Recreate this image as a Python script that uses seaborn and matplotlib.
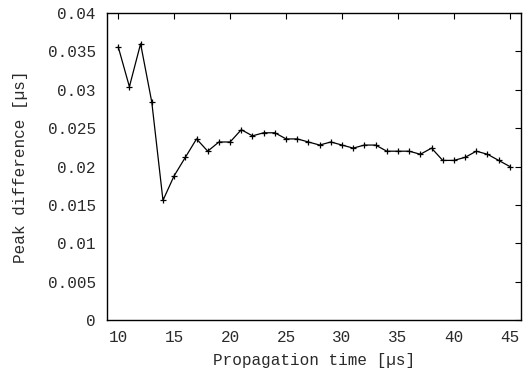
import matplotlib
matplotlib.use("Agg")
import matplotlib.pyplot as plt
import seaborn as sns
import pandas as pd

# propagation time [us] and peak difference [us]
prop_time = list(range(10, 46))
peak_diff = [0.0356, 0.0304, 0.0360, 0.0284, 0.0156, 0.0188, 0.0212, 0.0236,
             0.0220, 0.0232, 0.0232, 0.0248, 0.0240, 0.0244, 0.0244, 0.0236,
             0.0236, 0.0232, 0.0228, 0.0232, 0.0228, 0.0224, 0.0228, 0.0228,
             0.0220, 0.0220, 0.0220, 0.0216, 0.0224, 0.0208, 0.0208, 0.0212,
             0.0220, 0.0216, 0.0208, 0.0200]
y_ticks = [0, 0.005, 0.01, 0.015, 0.02, 0.025, 0.03, 0.035, 0.04]
y_tick_labels = ["0", "0.005", "0.01", "0.015", "0.02", "0.025", "0.03", "0.035", "0.04"]
x_ticks = [10, 15, 20, 25, 30, 35, 40, 45]

df = pd.DataFrame({"t": prop_time, "d": peak_diff})

sns.set_style("white")
plt.rcParams["font.family"] = ["Liberation Mono", "DejaVu Sans Mono"]
txt = "#2a2a2a"

fig = plt.figure(figsize=(5.29, 3.73), dpi=100)
ax = fig.add_axes([0.2023, 0.142, 0.7827, 0.823])

sns.lineplot(data=df, x="t", y="d", ax=ax, color="black", linewidth=0.9,
             marker="+", markersize=5, markeredgewidth=0.9, markeredgecolor="black")

ax.set_xlim(9, 46)
ax.set_ylim(0, 0.04)
ax.set_xticks(x_ticks)
ax.set_xticklabels([str(v) for v in x_ticks])
ax.set_yticks(y_ticks)
ax.set_yticklabels(y_tick_labels)
ax.tick_params(direction="in", length=4, width=0.8, top=True, right=True,
               labelsize=11.5, colors="black", labelcolor=txt, pad=7)
ax.tick_params(axis="y", pad=8)
for s in ax.spines.values():
    s.set_color("black")
    s.set_linewidth(1.0)

ax.set_xlabel("Propagation time [\u00b5s]", fontsize=11.5, labelpad=6, color=txt)
ax.set_ylabel("Peak difference [\u00b5s]", fontsize=11.5, labelpad=14, color=txt)

fig.savefig("out.png", dpi=100)
